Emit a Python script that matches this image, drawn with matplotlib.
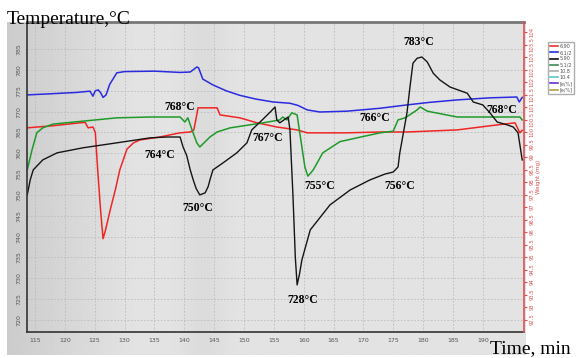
import numpy as np
import matplotlib
matplotlib.use("Agg")
import matplotlib.pyplot as plt
from matplotlib.lines import Line2D

# ---- data (time, min ; temperature, °C) ----
blue_t = [113.7, 118, 122, 124.2, 124.7, 125.1, 125.6, 126.0, 126.4, 126.9, 127.5, 128.7, 130, 135,
          139.3, 141.0, 142.1, 142.4, 143.1, 144.8, 147, 149.3, 152, 154.9, 157.7, 159, 160.6, 162.7,
          167.3, 172.8, 177.3, 181, 185.7, 191.2, 195.7, 196.1, 196.6]
blue_T = [774.0, 774.3, 774.6, 774.9, 773.7, 775.0, 775.2, 774.5, 773.4, 774.0, 776.5, 779.3, 779.6, 779.7,
          779.4, 779.5, 780.7, 780.5, 777.8, 776.4, 775.0, 773.9, 773.0, 772.3, 772.0, 771.5, 770.4, 769.9,
          770.1, 770.8, 771.6, 772.2, 772.8, 773.3, 773.5, 772.3, 773.4]

red_t = [113.7, 118, 122.5, 123.4, 123.9, 124.7, 125.1, 125.5, 126.0, 126.4, 126.8, 127.6, 128.5, 129.2,
         130.4, 131.5, 132.6, 135.9, 139.3, 141.0, 141.6, 142.0, 142.3, 145.5, 146.0, 149.3, 152.2, 155.5,
         158.9, 160.6, 167.3, 172.8, 177.3, 185.7, 192.4, 195.4, 196.2, 196.6]
red_T = [766.1, 766.6, 767.3, 767.4, 766.1, 766.3, 765.0, 756.0, 746.0, 739.5, 741.5, 746.4, 751.5, 756.0,
         761.0, 762.5, 763.2, 763.9, 764.9, 765.1, 765.6, 768.5, 770.9, 770.9, 769.2, 768.5, 767.3, 766.3,
         765.6, 764.9, 764.9, 765.1, 765.1, 765.6, 766.8, 767.3, 764.9, 765.5]

green_t = [113.7, 114.5, 115.3, 116.3, 118.0, 123.0, 128.7, 134.3, 139.3, 140.1, 140.6, 141.3, 142.1, 142.6,
           144.3, 145.5, 147.7, 153.2, 156.0, 156.5, 157.2, 158.0, 158.9, 159.7, 160.2, 160.7, 161.6, 163.2,
           166.1, 169.9, 172.8, 175.0, 175.8, 177.0, 179.0, 179.5, 180.7, 185.7, 191.2, 196.2, 196.6]
green_T = [756.0, 760.8, 764.9, 766.1, 767.0, 767.7, 768.5, 768.7, 768.7, 767.5, 768.5, 765.6, 762.5, 761.5,
           763.9, 765.1, 766.1, 767.3, 768.0, 768.7, 768.0, 769.7, 769.2, 761.5, 756.7, 754.5, 756.0, 760.1,
           762.8, 764.0, 764.9, 765.3, 768.0, 768.5, 770.4, 771.1, 770.1, 768.7, 768.7, 768.7, 768.0]

black_t = [113.7, 114.2, 114.7, 116.3, 118.7, 123.0, 128.7, 134.3, 137.1, 139.3, 139.8, 140.4, 141.0, 141.5,
           142.0, 142.6, 143.5, 144.0, 144.3, 144.8, 146.5, 148.8, 150.5, 151.3, 152.7, 154.4, 155.2, 155.5,
           156.0, 157.2, 157.4, 157.7, 158.2, 158.6, 158.9, 159.3, 159.7, 161.1, 164.4, 167.8, 171.1, 173.6,
           175.0, 175.8, 176.1, 177.3, 177.8, 178.3, 179.0, 179.8, 180.7, 181.7, 182.8, 184.5, 187.4, 188.4,
           190.0, 191.2, 192.4, 194.1, 195.1, 195.9, 196.6]
black_T = [750.0, 753.6, 756.0, 758.4, 760.1, 761.3, 762.5, 763.7, 763.9, 763.9, 761.5, 759.5, 756.0, 753.6,
           751.5, 750.0, 750.5, 752.0, 753.6, 756.0, 757.7, 760.1, 762.5, 765.6, 767.5, 769.9, 771.1, 768.0,
           767.3, 768.5, 768.7, 765.6, 750.0, 735.0, 728.4, 731.0, 734.4, 741.6, 747.6, 751.2, 753.6, 755.0,
           755.5, 756.7, 760.1, 769.7, 775.9, 781.6, 782.8, 783.1, 781.9, 779.2, 777.6, 775.9, 774.4, 772.3,
           771.6, 769.7, 767.5, 766.8, 766.3, 764.9, 758.4]

annot_text = ["768°C", "764°C", "750°C", "767°C", "755°C", "728°C", "756°C", "783°C", "766°C", "768°C"]
annot_t = [139.3, 135.9, 142.3, 153.9, 162.7, 159.9, 176.1, 179.2, 171.9, 193.2]
annot_T = [771.1, 759.6, 746.9, 763.7, 752.1, 724.8, 752.1, 786.7, 768.5, 770.4]

x_ticks = [115, 120, 125, 130, 135, 140, 145, 150, 155, 160, 165, 170, 175, 180, 185, 190]
y_ticks = [720, 725, 730, 735, 740, 745, 750, 755, 760, 765, 770, 775, 780, 785]
right_ticks = [104, 103.5, 103, 102.5, 102, 101.5, 101, 100.5, 100, 99.5, 99, 98.5,
               98, 97.5, 97, 96.5, 96, 95.5, 95, 94.5, 94, 93.5, 93, 92.5]

legend_labels = ["6.90", "6.1/2", "5.90", "5.1/2", "10.8", "10.4", "[e/%]", "[e/%]"]
legend_colors = ["#ee3333", "#2233dd", "#111111", "#3a8a5a", "#aaaaaa", "#55c8d8", "#6633cc", "#b0a040"]

# ---- figure ----
W, H = 576, 358
fig = plt.figure(figsize=(W / 100, H / 100), dpi=100)
fig.patch.set_facecolor("white")

# gray screenshot panel with horizontal shading
bg = fig.add_axes([7 / W, 3 / H, (526 - 7) / W, (336 - 3) / H], zorder=0)
xs = np.linspace(0, 1, 300)
shade = 0.80 + 0.09 * np.clip(xs / 0.25, 0, 1) - 0.03 * np.exp(-((xs - 0.38) / 0.04) ** 2)
bg.imshow(shade[None, :], aspect="auto", cmap="gray", vmin=0, vmax=1,
          extent=[0, 1, 0, 1], interpolation="bilinear")
bg.set_xlim(0, 1)
bg.set_ylim(0, 1)
bg.axis("off")

ax = fig.add_axes([27 / W, 1 - 332 / H, (524 - 27) / W, (332 - 22) / H], zorder=2)
ax.patch.set_alpha(0)

ax.plot(blue_t, blue_T, color="#2a2ae0", lw=1.1)
ax.plot(red_t, red_T, color="#f02525", lw=1.1)
ax.plot(green_t, green_T, color="#1f9a2a", lw=1.1)
ax.plot(black_t, black_T, color="#151515", lw=1.0)

for s, t, T in zip(annot_text, annot_t, annot_T):
    ax.text(t, T, s, ha="center", va="center", fontsize=8.5, fontweight="bold",
            family="Liberation Serif", color="black")

ax.set_xlim(113.66, 196.9)
ax.set_ylim(717.1, 791.5)
ax.set_xticks(x_ticks)
ax.set_yticks(y_ticks)
ax.tick_params(axis="x", labelsize=4.5, labelcolor="#555555", length=0, pad=4)
ax.tick_params(axis="y", labelsize=4.5, labelcolor="#555555", length=0, pad=4, labelrotation=90)
for lab in ax.get_yticklabels():
    lab.set_va("center")
ax.grid(True, color="#bcbcbc", lw=0.6, ls=(0, (2, 2)))
ax.set_axisbelow(True)
ax.spines["left"].set_color("#333333")
ax.spines["bottom"].set_color("#333333")
ax.spines["left"].set_linewidth(1.2)
ax.spines["bottom"].set_linewidth(1.2)
ax.spines["top"].set_color("#777777")
ax.spines["top"].set_linewidth(2.0)
ax.spines["right"].set_visible(False)

ax2 = ax.twinx()
ax2.set_ylim(92.0, 104.4)
ax2.set_yticks(right_ticks)
ax2.set_yticklabels([f"{v:g}" for v in right_ticks])
ax2.tick_params(axis="y", labelsize=3.8, labelcolor="#e05050", color="#e05050",
                length=2, pad=2, labelrotation=90)
for lab in ax2.get_yticklabels():
    lab.set_va("center")
ax2.spines["right"].set_color("#e05050")
ax2.spines["right"].set_linewidth(1.2)
for sp in ["top", "left", "bottom"]:
    ax2.spines[sp].set_visible(False)
ax2.set_ylabel("Weight (mg)", color="#e05050", fontsize=4, labelpad=1, rotation=90)

fig.text(7 / W, 1 - 24 / H, "Temperature,°C", family="Liberation Serif", fontsize=14,
         ha="left", va="baseline", color="black")
fig.text(490 / W, 1 - 353 / H, "Time, min", family="Liberation Serif", fontsize=14,
         ha="left", va="baseline", color="black")

handles = [Line2D([0], [0], color=c, lw=1.2) for c in legend_colors]
leg = fig.legend(handles, legend_labels, loc="upper left", bbox_to_anchor=(546 / W, 1 - 40 / H),
                 fontsize=3.5, handlelength=1.6, handletextpad=0.3, labelspacing=0.25,
                 borderpad=0.3, frameon=True, fancybox=False, edgecolor="#999999")
for t in leg.get_texts():
    t.set_color("#555555")

fig.savefig("out.png", dpi=100, facecolor=fig.get_facecolor())
